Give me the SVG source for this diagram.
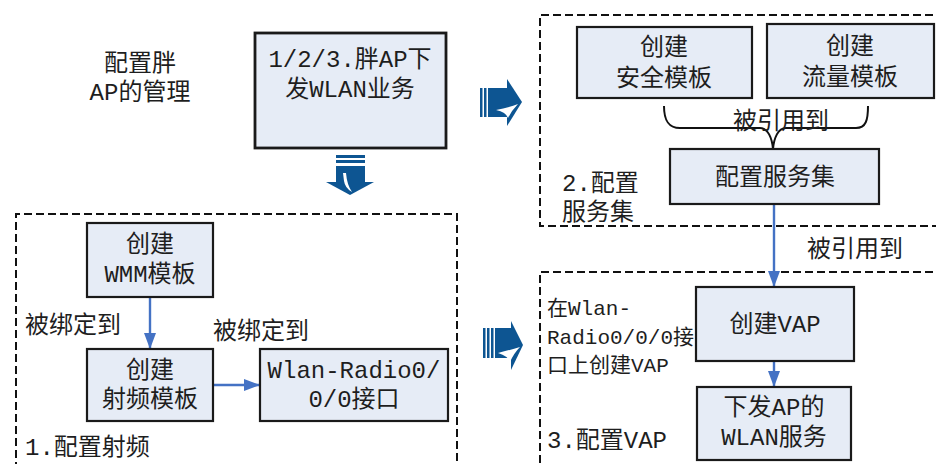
<svg xmlns="http://www.w3.org/2000/svg" width="936" height="464" viewBox="0 0 936 464">
<style>
.t{font-family:"Liberation Mono","Noto Sans CJK SC",monospace;font-size:24px;fill:#1e1e1e}
.s{font-size:21px}
.m{text-anchor:middle}
.box{fill:#e6ecf6;stroke:#1a1a1a;stroke-width:2.2}
.dash{fill:none;stroke:#111;stroke-width:2;stroke-dasharray:8 4}
.con{fill:none;stroke:#4472c4;stroke-width:2.4}
.ico{fill:#0d5592}
.hl{fill:#ffffff}
</style>
<defs>
<marker id="ah" markerUnits="userSpaceOnUse" markerWidth="16" markerHeight="12" refX="16" refY="6" orient="auto">
<path d="M0,0 L16,6 L0,12 Z" fill="#4472c4"/>
</marker>
</defs>
<rect width="936" height="464" fill="#fff"/>

<g id="containers">
<path class="dash" d="M16,470 V214 H457 V470"/>
<path class="dash" d="M945,15 H540 V226 H945"/>
<path class="dash" d="M945,272 H540 V470"/>
</g>

<g id="title">
<text class="t m" x="140" y="71">配置胖</text>
<text class="t m" x="140" y="100">AP的管理</text>
</g>

<g id="nodeA">
<rect class="box" x="255" y="33" width="191" height="115" style="stroke-width:2.8"/>
<text class="t m" x="350" y="67">1/2/3.胖AP下</text>
<text class="t m" x="350" y="97">发WLAN业务</text>
</g>

<g id="icon-down">
<rect class="ico" x="336" y="155" width="29" height="3"/>
<rect class="ico" x="336" y="160" width="29" height="3"/>
<rect class="ico" x="336" y="166" width="29" height="17"/>
<polygon class="ico" points="326,182 374,182 350,195"/>
<path class="hl" d="M343,173 L346,173 Q347,185 352,192 Q345,188 344,181 Z"/>
</g>
<g id="icon-right1">
<rect class="ico" x="480" y="88" width="2.5" height="29"/>
<rect class="ico" x="484" y="88" width="2.5" height="29"/>
<rect class="ico" x="488" y="88" width="20" height="29"/>
<polygon class="ico" points="507,79 522,102 507,126"/>
<path class="hl" d="M496,110 Q508,108 518,104 Q512,110 508,118 Q506,112 496,110 Z"/>
</g>
<g id="icon-right2">
<rect class="ico" x="483" y="328" width="2.5" height="30"/>
<rect class="ico" x="487" y="328" width="2.5" height="30"/>
<rect class="ico" x="491" y="328" width="2.5" height="30"/>
<rect class="ico" x="495" y="328" width="17" height="30"/>
<polygon class="ico" points="511,321 523,345 511,370"/>
<path class="hl" d="M498,353 Q510,350 520,347 Q514,353 510,362 Q508,356 498,353 Z"/>
</g>

<g id="connectors">
<line class="con" x1="150" y1="297" x2="150" y2="349" marker-end="url(#ah)"/>
<line class="con" x1="213" y1="385" x2="260" y2="385" marker-end="url(#ah)"/>
<line class="con" x1="774" y1="204" x2="774" y2="287" marker-end="url(#ah)"/>
<line class="con" x1="774" y1="361" x2="774" y2="387" marker-end="url(#ah)"/>
<path d="M664,106 C664,120 668,128 680,128 L760,128 C768,128 772,138 773,149 C774,138 778,128 786,128 L856,128 C866,128 868,120 868,106" fill="none" stroke="#111" stroke-width="2"/>
</g>

<g id="labels">
<text class="t" x="25" y="333">被绑定到</text>
<text class="t" x="213" y="339">被绑定到</text>
<text class="t m" x="781" y="129">被引用到</text>
<text class="t" x="807" y="257">被引用到</text>
<text class="t" x="25" y="455">1.配置射频</text>
<text class="t" x="562" y="191">2.配置</text>
<text class="t" x="562" y="220">服务集</text>
<text class="t s" x="547" y="315">在Wlan-</text>
<text class="t s" x="547" y="344">Radio0/0/0接</text>
<text class="t s" x="547" y="372">口上创建VAP</text>
<text class="t" x="547" y="448">3.配置VAP</text>
</g>

<g id="nodeWMM">
<rect class="box" x="87" y="223" width="126" height="74"/>
<text class="t m" x="150" y="252">创建</text>
<text class="t m" x="150" y="282">WMM模板</text>
</g>
<g id="nodeRadio">
<rect class="box" x="87" y="349" width="126" height="72"/>
<text class="t m" x="150" y="378">创建</text>
<text class="t m" x="150" y="407">射频模板</text>
</g>
<g id="nodeIf">
<rect class="box" x="260" y="349" width="188" height="72"/>
<text class="t m" x="354" y="378">Wlan-Radio0/</text>
<text class="t m" x="354" y="407">0/0接口</text>
</g>
<g id="nodeSec">
<rect class="box" x="577" y="27" width="175" height="71"/>
<text class="t m" x="664" y="55">创建</text>
<text class="t m" x="664" y="86">安全模板</text>
</g>
<g id="nodeTraffic">
<rect class="box" x="767" y="24" width="167" height="74"/>
<text class="t m" x="850" y="54">创建</text>
<text class="t m" x="850" y="85">流量模板</text>
</g>
<g id="nodeSSID">
<rect class="box" x="670" y="149" width="209" height="55"/>
<text class="t m" x="775" y="185">配置服务集</text>
</g>
<g id="nodeVAP">
<rect class="box" x="696" y="287" width="158" height="74"/>
<text class="t m" x="775" y="332">创建VAP</text>
</g>
<g id="nodeWLAN">
<rect class="box" x="697" y="387" width="154" height="73"/>
<text class="t m" x="774" y="415">下发AP的</text>
<text class="t m" x="774" y="445">WLAN服务</text>
</g>
</svg>
